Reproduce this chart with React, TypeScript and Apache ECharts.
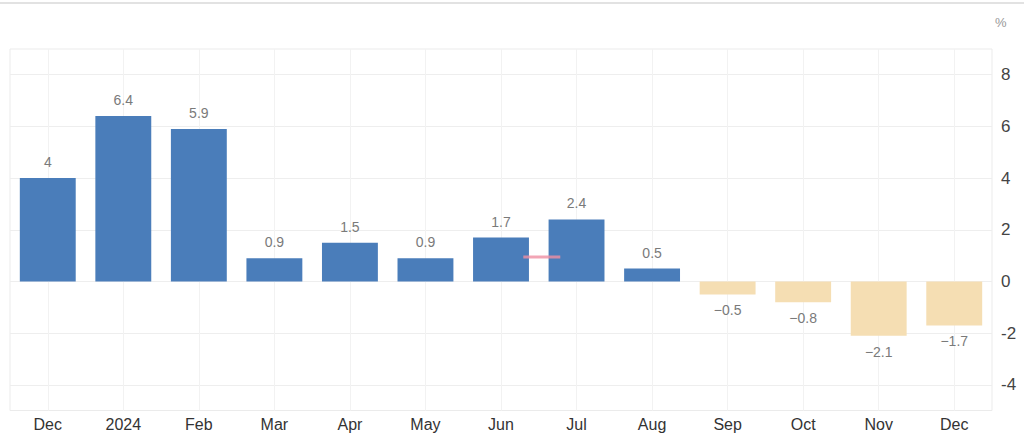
import React, { useEffect, useRef } from "react";
import * as echarts from "echarts";

const categories = ["Dec", "2024", "Feb", "Mar", "Apr", "May", "Jun", "Jul", "Aug", "Sep", "Oct", "Nov", "Dec"];
const values = [4, 6.4, 5.9, 0.9, 1.5, 0.9, 1.7, 2.4, 0.5, -0.5, -0.8, -2.1, -1.7];
const markerPoint = [[6.54, 0.95]];
const yMin = -4;
const yMax = 8;
const yStep = 2;
const unitLabel = "%";

const POS = "#4a7dba";
const NEG = "#f5deb3";
const FONT = "Liberation Sans, Arial, sans-serif";

export default function App() {
  const ref = useRef<HTMLDivElement>(null);
  useEffect(() => {
    if (!ref.current) return;
    const chart = echarts.init(ref.current, null, { renderer: "svg" });
    const fmt = (v: number) => (v < 0 ? "\u2212" + Math.abs(v) : String(v));
    const barData = values.map((v) => ({
      value: v,
      itemStyle: { color: v >= 0 ? POS : NEG },
      label: { position: v >= 0 ? "top" : "bottom" },
    }));
    chart.setOption({
      animation: false,
      backgroundColor: "#fff",
      textStyle: { fontFamily: FONT },
      graphic: [
        { type: "rect", shape: { x: 0, y: 2, width: 1024, height: 2 }, style: { fill: "#e2e2e2" }, silent: true },
        { type: "text", x: 995, y: 16, style: { text: unitLabel, fill: "#999", font: "13px " + FONT }, silent: true },
      ],
      grid: [
        { left: 10, right: 32, top: 74.7, bottom: 60.1, containLabel: false },
        { left: 10, right: 32, top: 49, bottom: 34.5, containLabel: false, show: true, borderColor: "#ebebeb", borderWidth: 1, z: 0 },
      ],
      xAxis: [
        { type: "category", gridIndex: 0, data: categories, show: false },
        {
          type: "category",
          gridIndex: 1,
          data: categories,
          axisLine: { show: false },
          axisTick: { show: false },
          axisLabel: { color: "#333", fontSize: 16, margin: 6, fontFamily: FONT },
          splitLine: { show: true, alignWithLabel: true, lineStyle: { color: "#f2f2f2", width: 1 } },
        },
        { type: "value", gridIndex: 0, min: -0.5, max: 12.5, show: false },
      ],
      yAxis: [
        {
          type: "value",
          gridIndex: 0,
          position: "right",
          min: yMin,
          max: yMax,
          interval: yStep,
          axisLine: { show: false },
          axisTick: { show: false },
          axisLabel: { color: "#444", fontSize: 17, margin: 9, fontFamily: FONT },
          splitLine: { show: true, lineStyle: { color: "#eeeeee", width: 1 } },
        },
        { type: "value", gridIndex: 1, show: false, min: 0, max: 1, splitLine: { show: false } },
      ],
      series: [
        {
          type: "bar",
          xAxisIndex: 0,
          yAxisIndex: 0,
          data: barData,
          barWidth: "74%",
          label: {
            show: true,
            color: "#7a7a7a",
            fontSize: 14,
            distance: 9,
            fontFamily: FONT,
            formatter: (p: any) => fmt(p.value),
          },
          z: 2,
        },
        {
          type: "scatter",
          xAxisIndex: 2,
          yAxisIndex: 0,
          data: markerPoint,
          symbol: "rect",
          symbolSize: [37, 3],
          itemStyle: { color: "#ef8fa3" },
          z: 3,
        },
      ],
    });
    return () => chart.dispose();
  }, []);
  return <div ref={ref} style={{ position: "fixed", left: 0, top: 0, width: 1024, height: 445 }} />;
}
